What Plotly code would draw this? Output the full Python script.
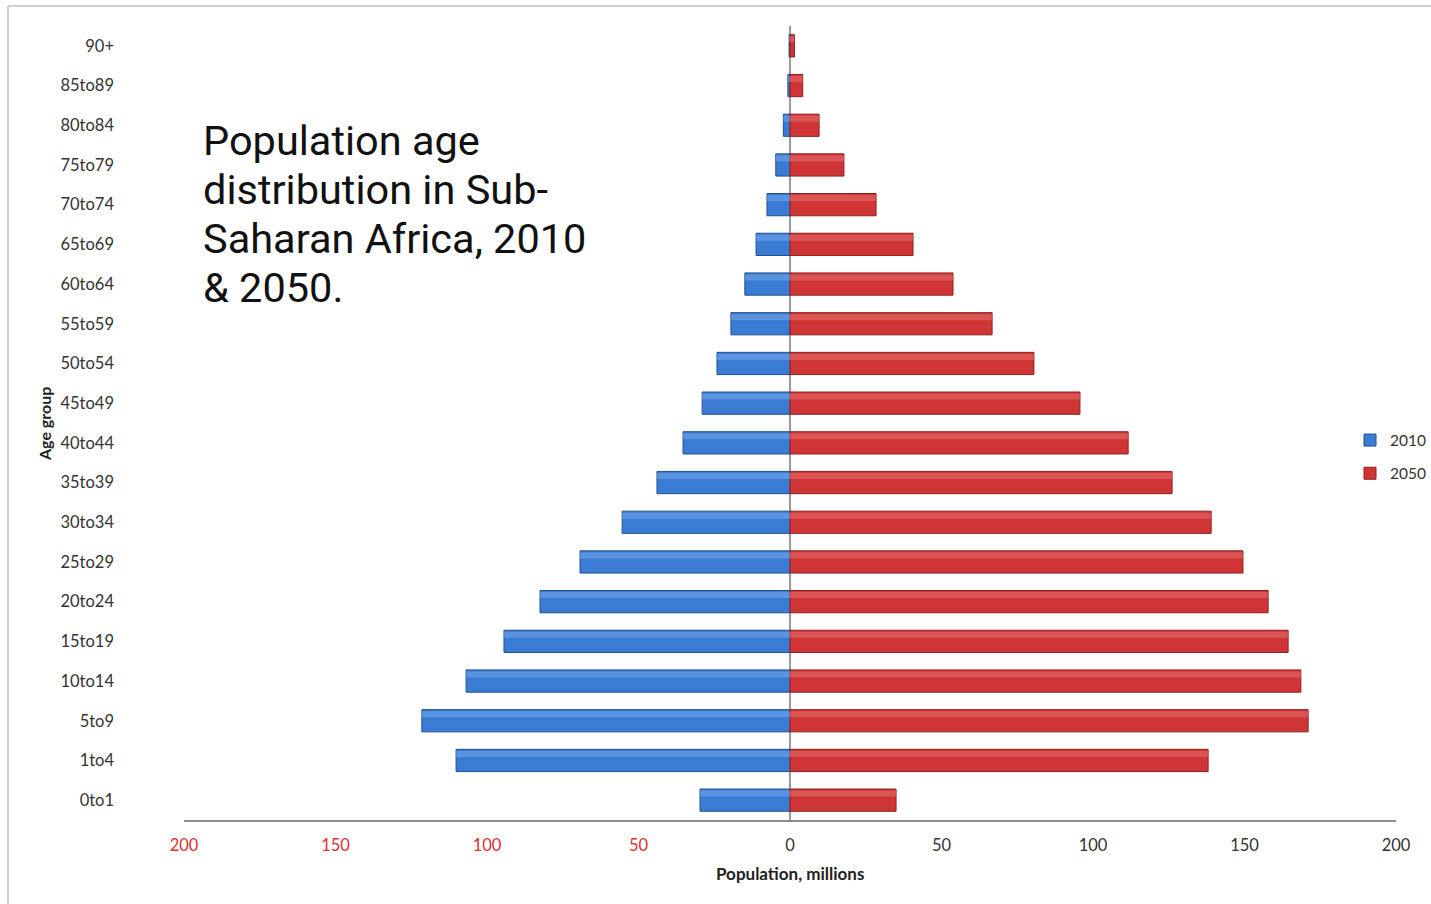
import plotly.graph_objects as go

# Age groups from youngest (bottom) to oldest (top)
age_groups = ["0to1", "1to4", "5to9", "10to14", "15to19", "20to24", "25to29",
              "30to34", "35to39", "40to44", "45to49", "50to54", "55to59",
              "60to64", "65to69", "70to74", "75to79", "80to84", "85to89", "90+"]

# Population in millions
pop_2010 = [29.7, 110.2, 121.5, 106.9, 94.4, 82.5, 69.3, 55.4, 43.9, 35.3,
            29.0, 24.1, 19.5, 14.9, 11.2, 7.6, 4.7, 2.2, 0.7, 0.3]
pop_2050 = [35.0, 138.0, 171.0, 168.6, 164.4, 157.8, 149.5, 139.0, 126.1, 111.6,
            95.7, 80.5, 66.7, 53.8, 40.6, 28.4, 17.8, 9.6, 4.2, 1.5]

tick_vals = [-200, -150, -100, -50, 0, 50, 100, 150, 200]
tick_text = ['<span style="color:#e03030">200</span>',
             '<span style="color:#e03030">150</span>',
             '<span style="color:#e03030">100</span>',
             '<span style="color:#e03030">50</span>',
             "0", "50", "100", "150", "200"]

title_lines = ["Population age", "distribution in Sub-", "Saharan Africa, 2010", "&amp; 2050."]

BLUE, BLUE_HI, BLUE_EDGE = "#3a7bd3", "#8bbaf2", "#23508f"
RED, RED_HI, RED_EDGE = "#cf3535", "#f08888", "#8e2020"

neg_2010 = [-v for v in pop_2010]
BAR_W = 0.56

fig = go.Figure()
fig.add_trace(go.Bar(y=age_groups, x=neg_2010, orientation="h", name="2010",
                     legendgroup="a", width=BAR_W,
                     marker=dict(color=BLUE, line=dict(color=BLUE_EDGE, width=1))))
fig.add_trace(go.Bar(y=age_groups, x=pop_2050, orientation="h", name="2050",
                     legendgroup="b", width=BAR_W,
                     marker=dict(color=RED, line=dict(color=RED_EDGE, width=1))))
# glossy highlight along the upper part of each bar
fig.add_trace(go.Bar(y=age_groups, x=neg_2010, orientation="h", showlegend=False,
                     width=0.15, offset=0.09, hoverinfo="skip",
                     marker=dict(color=BLUE_HI, opacity=0.4, line=dict(width=0))))
fig.add_trace(go.Bar(y=age_groups, x=pop_2050, orientation="h", showlegend=False,
                     width=0.15, offset=0.09, hoverinfo="skip",
                     marker=dict(color=RED_HI, opacity=0.4, line=dict(width=0))))

FONT = "Lato, 'Open Sans', sans-serif"
tick_font = dict(family=FONT, size=16.5, color="#333333")

W, H = 1431, 904
L, R, T, B = 184, 35, 26, 84
PW, PH = W - L - R, H - T - B


def px_x(px):
    return (px - L) / PW


def px_y(py):
    return (H - B - py) / PH


annotations = []
for i, line in enumerate(title_lines):
    annotations.append(dict(text=line, xref="paper", yref="paper",
                            x=px_x(201), y=px_y(140 + 49.2 * i),
                            xanchor="left", yanchor="middle", showarrow=False,
                            font=dict(family="Roboto, sans-serif", size=41.5, color="#111111")))
annotations += [
    dict(text="<b>Age group</b>", xref="paper", yref="paper", x=px_x(45), y=px_y(424),
         xanchor="center", yanchor="middle", textangle=-90, showarrow=False,
         font=dict(family=FONT, size=16, color="#222222")),
    dict(text="<b>Population, millions</b>", xref="paper", yref="paper",
         x=px_x(790), y=px_y(873), xanchor="center", yanchor="middle", showarrow=False,
         font=dict(family=FONT, size=17, color="#222222")),
]

fig.update_layout(
    width=W, height=H,
    margin=dict(l=L, r=R, t=T, b=B, autoexpand=False),
    paper_bgcolor="white", plot_bgcolor="white",
    barmode="overlay",
    font=tick_font,
    xaxis=dict(range=[-200, 200], tickvals=tick_vals, ticktext=tick_text,
               showgrid=False, zeroline=True, zerolinecolor="#9a9a9a", zerolinewidth=1.5,
               showline=True, linecolor="#8c8c8c", linewidth=1.5, ticks="",
               ticklabelstandoff=9, tickfont=tick_font, fixedrange=True),
    yaxis=dict(categoryorder="array", categoryarray=age_groups,
               showgrid=False, zeroline=False, showline=False, ticks="",
               ticklabelstandoff=69, tickfont=tick_font, fixedrange=True),
    legend=dict(x=px_x(1350), y=px_y(457),
                xanchor="left", yanchor="middle", traceorder="grouped",
                font=dict(family=FONT, size=15.5, color="#333333"),
                itemwidth=30, tracegroupgap=10, bgcolor="rgba(0,0,0,0)"),
    annotations=annotations,
    shapes=[
        # frame lines around the chart
        dict(type="line", xref="paper", yref="paper", x0=px_x(8), x1=px_x(1440),
             y0=px_y(6), y1=px_y(6), line=dict(color="#cfcfcf", width=2)),
        dict(type="line", xref="paper", yref="paper", x0=px_x(8), x1=px_x(8),
             y0=px_y(6), y1=px_y(910), line=dict(color="#cfcfcf", width=2)),
    ],
)

fig.write_html("out.html")
